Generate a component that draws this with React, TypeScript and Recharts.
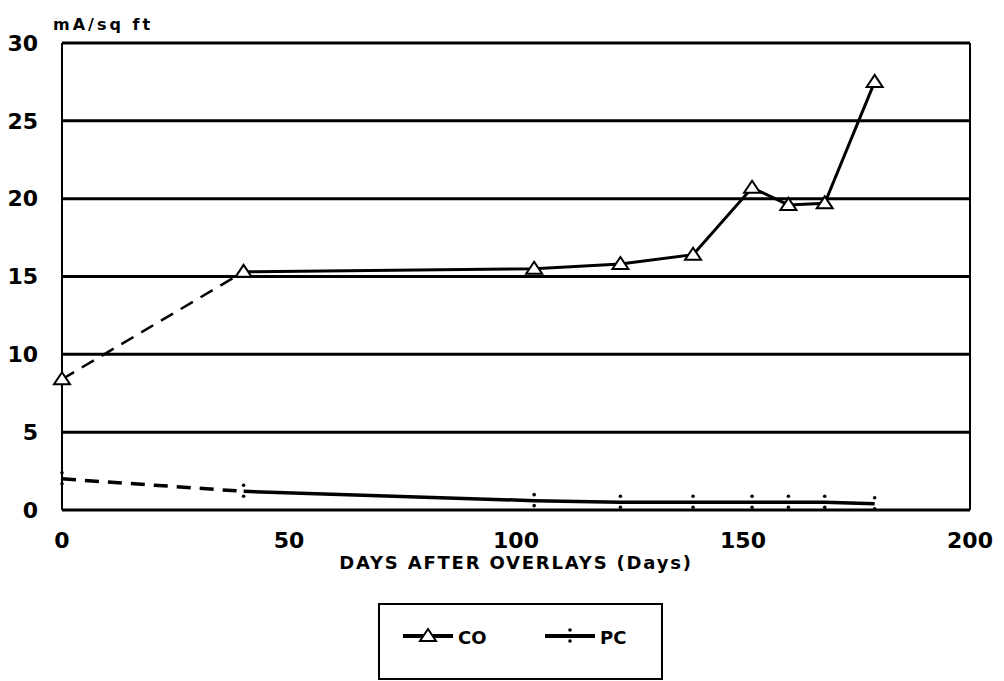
import React from "react";
import {
  LineChart,
  Line,
  XAxis,
  YAxis,
  CartesianGrid,
  ReferenceLine,
  Label,
} from "recharts";

// Values
const days = [0, 40, 104, 123, 139, 152, 160, 168, 179];
const coValues = [8.4, 15.3, 15.5, 15.8, 16.4, 20.7, 19.6, 19.7, 27.5];
const pcValues = [2.0, 1.2, 0.6, 0.5, 0.5, 0.5, 0.5, 0.5, 0.4];
const xTicks = [0, 50, 100, 150, 200];
const yTicks = [0, 5, 10, 15, 20, 25, 30];
const seriesNames = ["CO", "PC"];

const FONT = "'DejaVu Sans', Verdana, sans-serif";

const coRows = days.map((day, i) => ({ day, value: coValues[i] }));
const pcRows = days.map((day, i) => ({ day, value: pcValues[i] }));

// open triangle marker for CO
const Triangle = (props: any) => {
  const { cx, cy, index } = props;
  if (cx == null || cy == null) return null;
  return (
    <path
      key={`tri-${index}`}
      d={`M${cx},${cy - 7} L${cx + 8},${cy + 5} L${cx - 8},${cy + 5} Z`}
      fill="#fff"
      stroke="#000"
      strokeWidth={2}
    />
  );
};

// small tick marker for PC
const Tick = (props: any) => {
  const { cx, cy, index } = props;
  if (cx == null || cy == null) return null;
  return (
    <g key={`tick-${index}`}>
      <circle cx={cx} cy={cy - 6} r={1.8} fill="#000" />
      <circle cx={cx} cy={cy + 5} r={1.8} fill="#000" />
    </g>
  );
};

const firstOnly = (Marker: any) => (props: any) =>
  props.index === 0 ? <Marker {...props} /> : <g key={`none-${props.index}`} />;

const LegendBox = () => (
  <div
    style={{
      position: "absolute",
      left: 378,
      top: 603,
      width: 285,
      height: 77,
      border: "2px solid #000",
      boxSizing: "border-box",
      background: "#fff",
    }}
  >
    <svg width={281} height={73} style={{ display: "block" }}>
      {seriesNames.map((name, i) => {
        const x0 = 23 + i * 142;
        return (
          <g key={name}>
            <line x1={x0} y1={31} x2={x0 + 50} y2={31} stroke="#000" strokeWidth={4} />
            {i === 0 ? (
              <Triangle cx={x0 + 25} cy={31} index={0} />
            ) : (
              <Tick cx={x0 + 25} cy={31} index={0} />
            )}
            <text
              x={x0 + 55}
              y={39}
              fontFamily={FONT}
              fontWeight="bold"
              fontSize={18}
              fill="#000"
            >
              {name}
            </text>
          </g>
        );
      })}
    </svg>
  </div>
);

const App = () => {
  return (
    <div
      style={{
        position: "absolute",
        left: 0,
        top: 0,
        width: 1004,
        height: 681,
        background: "#fff",
      }}
    >
      <LineChart
        width={1004}
        height={681}
        margin={{ top: 43, right: 34, left: 0, bottom: 101 }}
      >
        <CartesianGrid
          vertical={false}
          stroke="#000"
          strokeWidth={3}
          horizontalValues={yTicks}
        />
        <XAxis
          type="number"
          dataKey="day"
          domain={[0, 200]}
          ticks={xTicks}
          height={70}
          axisLine={false}
          tickLine={false}
          tickMargin={16}
          tick={{ fill: "#000", fontSize: 22, fontWeight: "bold", fontFamily: FONT }}
        >
          <Label
            value="DAYS AFTER OVERLAYS (Days)"
            position="insideBottom"
            offset={11}
            style={{
              fill: "#000",
              fontSize: 18,
              fontWeight: "bold",
              fontFamily: FONT,
              letterSpacing: 1.8,
            }}
          />
        </XAxis>
        <YAxis
          type="number"
          domain={[0, 30]}
          ticks={yTicks}
          width={62}
          axisLine={{ stroke: "#000", strokeWidth: 2 }}
          tickLine={false}
          tickMargin={18}
          tick={{ fill: "#000", fontSize: 22, fontWeight: "bold", fontFamily: FONT }}
        >
          <Label
            content={() => (
              <text
                x={53}
                y={30}
                fontFamily={FONT}
                fontWeight="bold"
                fontSize={16}
                letterSpacing={3}
                fill="#000"
              >
                mA/sq ft
              </text>
            )}
          />
        </YAxis>
        <ReferenceLine x={200} stroke="#000" strokeWidth={2} />

        {/* CO: dashed to day 40, solid afterwards */}
        <Line
          data={coRows.slice(0, 2)}
          dataKey="value"
          stroke="#000"
          strokeWidth={2.5}
          strokeDasharray="14 9"
          dot={firstOnly(Triangle)}
          isAnimationActive={false}
        />
        <Line
          data={coRows.slice(1)}
          dataKey="value"
          stroke="#000"
          strokeWidth={3}
          dot={Triangle}
          isAnimationActive={false}
        />

        {/* PC: dashed to day 40, solid afterwards */}
        <Line
          data={pcRows.slice(0, 2)}
          dataKey="value"
          stroke="#000"
          strokeWidth={3.5}
          strokeDasharray="14 9"
          dot={firstOnly(Tick)}
          isAnimationActive={false}
        />
        <Line
          data={pcRows.slice(1)}
          dataKey="value"
          stroke="#000"
          strokeWidth={3.5}
          dot={Tick}
          isAnimationActive={false}
        />
      </LineChart>
      <LegendBox />
    </div>
  );
};

export default App;
